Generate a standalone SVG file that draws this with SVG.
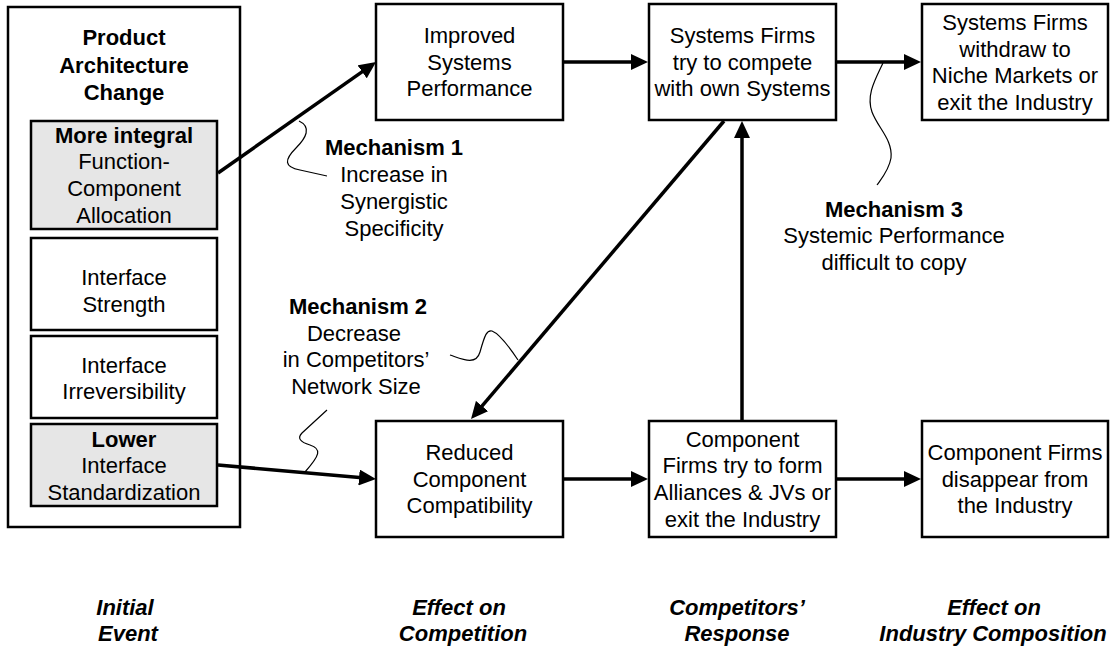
<svg xmlns="http://www.w3.org/2000/svg" width="1113" height="652" viewBox="0 0 1113 652">
<defs>
<marker id="ah" markerUnits="userSpaceOnUse" markerWidth="17" markerHeight="16" refX="9" refY="8" orient="auto">
<path d="M0,0 L17,8 L0,16 z" fill="#000"/>
</marker>
<style>
.box{fill:#fff;stroke:#000;stroke-width:2.5}
.gray{fill:#e6e6e6;stroke:#000;stroke-width:2.5}
text{font-family:"Liberation Sans",Arial,sans-serif;font-size:22px;fill:#000;text-anchor:middle}
.b{font-weight:bold}
.bi{font-weight:bold;font-style:italic}
.arr{stroke:#000;stroke-width:3.5;fill:none;marker-end:url(#ah)}
.sq{stroke:#000;stroke-width:1.2;fill:none}
</style>
</defs>
<rect width="1113" height="652" fill="#fff"/>

<g id="product-architecture-change">
<rect class="box" x="8" y="7" width="232" height="520"/>
<text class="b" x="124"><tspan x="124" y="45">Product</tspan><tspan x="124" y="73">Architecture</tspan><tspan x="124" y="100">Change</tspan></text>
</g>
<g id="more-integral">
<rect class="gray" x="31" y="121" width="186" height="108"/>
<text x="124"><tspan class="b" x="124" y="143">More integral</tspan><tspan x="124" y="169">Function-</tspan><tspan x="124" y="196">Component</tspan><tspan x="124" y="223">Allocation</tspan></text>
</g>
<g id="interface-strength">
<rect class="box" x="31" y="238" width="186" height="92"/>
<text x="124"><tspan x="124" y="285">Interface</tspan><tspan x="124" y="312">Strength</tspan></text>
</g>
<g id="interface-irreversibility">
<rect class="box" x="31" y="336" width="186" height="82"/>
<text x="124"><tspan x="124" y="373">Interface</tspan><tspan x="124" y="399">Irreversibility</tspan></text>
</g>
<g id="lower-standardization">
<rect class="gray" x="31" y="424" width="186" height="82"/>
<text x="124"><tspan class="b" x="124" y="447">Lower</tspan><tspan x="124" y="473">Interface</tspan><tspan x="124" y="500">Standardization</tspan></text>
</g>

<g id="improved-performance">
<rect class="box" x="376" y="4" width="187" height="116"/>
<text><tspan x="469.5" y="43">Improved</tspan><tspan x="469.5" y="70">Systems</tspan><tspan x="469.5" y="96">Performance</tspan></text>
</g>
<g id="systems-compete">
<rect class="box" x="649" y="4" width="187" height="116"/>
<text><tspan x="742.5" y="43">Systems Firms</tspan><tspan x="742.5" y="70">try to compete</tspan><tspan x="742.5" y="96">with own Systems</tspan></text>
</g>
<g id="systems-withdraw">
<rect class="box" x="922" y="4" width="186" height="116"/>
<text><tspan x="1015" y="30">Systems Firms</tspan><tspan x="1015" y="57">withdraw to</tspan><tspan x="1015" y="83">Niche Markets or</tspan><tspan x="1015" y="110">exit the Industry</tspan></text>
</g>
<g id="reduced-compatibility">
<rect class="box" x="376" y="421" width="187" height="116"/>
<text><tspan x="469.5" y="460">Reduced</tspan><tspan x="469.5" y="487">Component</tspan><tspan x="469.5" y="513">Compatibility</tspan></text>
</g>
<g id="component-alliances">
<rect class="box" x="649" y="421" width="187" height="116"/>
<text><tspan x="742.5" y="447">Component</tspan><tspan x="742.5" y="473">Firms try to form</tspan><tspan x="742.5" y="500">Alliances &amp; JVs or</tspan><tspan x="742.5" y="527">exit the Industry</tspan></text>
</g>
<g id="component-disappear">
<rect class="box" x="922" y="421" width="186" height="116"/>
<text><tspan x="1015" y="460">Component Firms</tspan><tspan x="1015" y="487">disappear from</tspan><tspan x="1015" y="513">the Industry</tspan></text>
</g>

<g id="connectors">
<line class="arr" x1="218" y1="173" x2="369.5" y2="66.6"/>
<line class="arr" x1="563" y1="62" x2="640" y2="62"/>
<line class="arr" x1="836" y1="62" x2="913" y2="62"/>
<line class="arr" x1="724" y1="121" x2="476.2" y2="412.9"/>
<line class="arr" x1="742" y1="421" x2="742" y2="129"/>
<line class="arr" x1="218" y1="465" x2="368" y2="478.3"/>
<line class="arr" x1="563" y1="479" x2="640" y2="479"/>
<line class="arr" x1="836" y1="479" x2="913" y2="479"/>
<path class="sq" d="M299,121 C312,127 306,138 296,148 C284,160 284,167 300,170 L327,176"/>
<path class="sq" d="M450,355 C462,359 476,366 480,352 C485,334 487,330 492,331 C500,334 510,348 518,360"/>
<path class="sq" d="M327,410 L302,433 C297,438 300,442 310,445 C322,449 320,455 305,472"/>
<path class="sq" d="M883,63 C875,80 866,95 872,112 C878,128 893,140 891,158 C889,170 882,178 877,185"/>
</g>

<g id="mechanism-1">
<text><tspan class="b" x="394" y="155">Mechanism 1</tspan><tspan x="394" y="182">Increase in</tspan><tspan x="394" y="209">Synergistic</tspan><tspan x="394" y="236">Specificity</tspan></text>
</g>
<g id="mechanism-2">
<text><tspan class="b" x="358" y="314">Mechanism 2</tspan><tspan x="354" y="341">Decrease</tspan><tspan x="356" y="367">in Competitors’</tspan><tspan x="356" y="394">Network Size</tspan></text>
</g>
<g id="mechanism-3">
<text><tspan class="b" x="894" y="217">Mechanism 3</tspan><tspan x="894" y="243">Systemic Performance</tspan><tspan x="894" y="270">difficult to copy</tspan></text>
</g>

<g id="stage-labels">
<text class="bi"><tspan x="125" y="615">Initial</tspan><tspan x="128" y="641">Event</tspan></text>
<text class="bi"><tspan x="459" y="615">Effect on</tspan><tspan x="463" y="641">Competition</tspan></text>
<text class="bi"><tspan x="737" y="615">Competitors’</tspan><tspan x="737" y="641">Response</tspan></text>
<text class="bi"><tspan x="994" y="615">Effect on</tspan><tspan x="993" y="641">Industry Composition</tspan></text>
</g>
</svg>
